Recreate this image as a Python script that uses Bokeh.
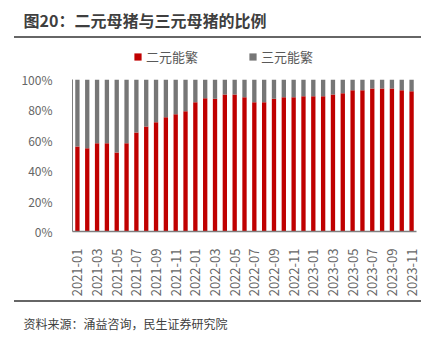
from math import pi
from bokeh.plotting import figure
from bokeh.layouts import column
from bokeh.models import (ColumnDataSource, Label, Legend, LegendItem, FixedTicker, Range1d, Div)
from bokeh.embed import file_html
from bokeh.resources import INLINE

months = ["2021-01", "2021-02", "2021-03", "2021-04", "2021-05", "2021-06", "2021-07",
          "2021-08", "2021-09", "2021-10", "2021-11", "2021-12",
          "2022-01", "2022-02", "2022-03", "2022-04", "2022-05", "2022-06", "2022-07",
          "2022-08", "2022-09", "2022-10", "2022-11", "2022-12",
          "2023-01", "2023-02", "2023-03", "2023-04", "2023-05", "2023-06", "2023-07",
          "2023-08", "2023-09", "2023-10", "2023-11"]
two_way = [0.560, 0.547, 0.580, 0.580, 0.519, 0.580, 0.651, 0.690, 0.719, 0.752, 0.771, 0.791,
           0.851, 0.877, 0.873, 0.901, 0.901, 0.884, 0.851, 0.851, 0.873, 0.884, 0.884,
           0.890, 0.890, 0.890, 0.901, 0.910, 0.930, 0.930, 0.941, 0.941, 0.941, 0.930, 0.923]
three_way = [round(1 - v, 3) for v in two_way]
series_names = ["二元能繁", "三元能繁"]
series_colors = ["#C00000", "#767676"]
y_ticks = [0, 0.2, 0.4, 0.6, 0.8, 1.0]
y_labels = ["0%", "20%", "40%", "60%", "80%", "100%"]
title_text = "图20：二元母猪与三元母猪的比例"
source_text = "资料来源：涌益咨询，民生证券研究院"

FONT = "Noto Sans CJK SC"
W = 432
TITLE_H, RULE_H, LEG_H, MAIN_H, FOOT_H = 36, 2, 32, 230, 35
RULE = "#666666"


def blank(height):
    f = figure(width=W, height=height, output_backend="svg", toolbar_location=None,
               x_range=Range1d(0, W), y_range=Range1d(0, height),
               x_axis_type=None, y_axis_type=None,
               min_border=0, min_border_left=0, min_border_right=0,
               min_border_top=0, min_border_bottom=0)
    f.frame_align = False
    f.outline_line_color = None
    f.xgrid.visible = False
    f.ygrid.visible = False
    return f


def rule():
    return Div(text="", width=407, height=RULE_H, margin=(0, 0, 0, 14),
               styles={"background-color": RULE})


# ---------- title ----------
head = blank(TITLE_H)
head.add_layout(Label(x=23, y=TITLE_H - 19, text=title_text, text_font=FONT,
                      text_font_size="16px", text_font_style="bold",
                      text_color="#3F3F3F", text_baseline="middle"))

# ---------- legend row ----------
leg = blank(LEG_H)
proxies = [leg.vbar(x=[0], top=[0], bottom=[0], width=0, color=c, line_color=None)
           for c in series_colors]
legend = Legend(items=[LegendItem(label=n, renderers=[r]) for n, r in zip(series_names, proxies)],
                orientation="horizontal", location=(133, 4),
                glyph_width=9, glyph_height=9, label_text_font=FONT,
                label_text_font_size="13px", label_text_color="#595959",
                spacing=50, padding=0, margin=0, border_line_color=None,
                background_fill_alpha=0, label_standoff=4)
leg.add_layout(legend, "center")

# ---------- main chart ----------
src = ColumnDataSource(dict(x=list(range(len(months))), two=two_way, three=three_way))
p = figure(width=W, height=MAIN_H, output_backend="svg", toolbar_location=None,
           x_range=Range1d(-0.5, len(months) - 0.5), y_range=Range1d(0, 1),
           min_border_left=72, min_border_right=16,
           min_border_top=9, min_border_bottom=69)
p.frame_align = False
p.outline_line_color = None
p.xgrid.visible = False
p.ygrid.visible = False

rs = p.vbar_stack(["two", "three"], x="x", width=0.44, color=series_colors,
                  source=src, line_color=None)

p.xaxis.ticker = FixedTicker(ticks=list(range(0, len(months), 2)))
p.xaxis.major_label_overrides = {i: m for i, m in enumerate(months)}
p.xaxis.major_label_orientation = pi / 2
p.xaxis.major_tick_line_color = None
p.xaxis.minor_tick_line_color = None
p.xaxis.axis_line_color = "#7F7F7F"
p.xaxis.axis_line_width = 1.5
p.xaxis.major_label_text_font = FONT
p.xaxis.major_label_text_font_size = "13px"
p.xaxis.major_label_text_color = "#666666"
p.xaxis.major_label_standoff = 11

p.yaxis.ticker = FixedTicker(ticks=y_ticks)
p.yaxis.major_label_overrides = {t: l for t, l in zip(y_ticks, y_labels)}
p.yaxis.major_tick_line_color = None
p.yaxis.minor_tick_line_color = None
p.yaxis.axis_line_color = "#7F7F7F"
p.yaxis.axis_line_width = 1
p.yaxis.major_label_text_font = FONT
p.yaxis.major_label_text_font_size = "12px"
p.yaxis.major_label_text_color = "#666666"
p.yaxis.major_label_standoff = 14

# ---------- footer ----------
foot = blank(FOOT_H)
foot.add_layout(Label(x=23, y=FOOT_H - 21, text=source_text, text_font=FONT,
                      text_font_size="12px", text_color="#404040", text_baseline="middle"))

layout = column(head, rule(), leg, p, rule(), foot, spacing=0)
open("out.html", "w").write(file_html(layout, INLINE))
